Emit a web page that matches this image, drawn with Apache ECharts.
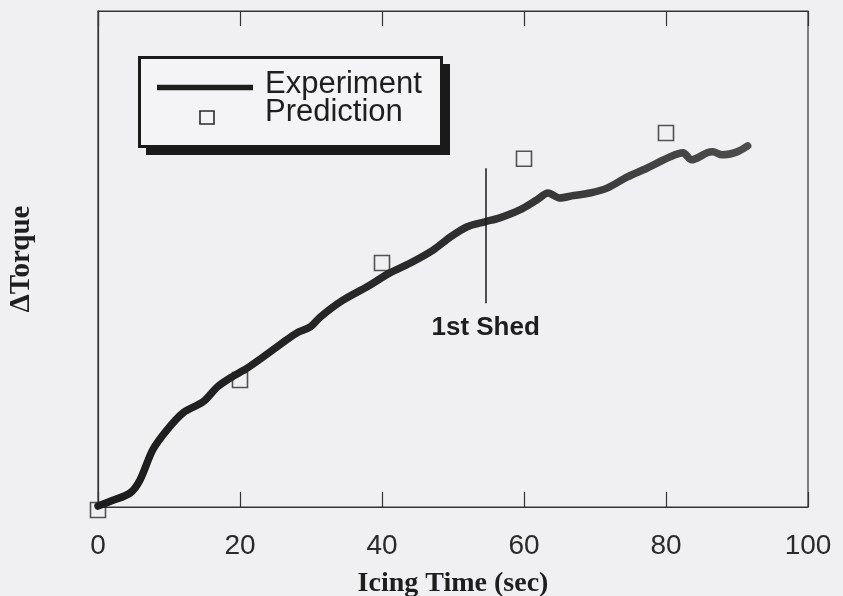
<!DOCTYPE html>
<html>
<head>
<meta charset="utf-8">
<title>ΔTorque vs Icing Time</title>
<script src="https://cdn.jsdelivr.net/npm/echarts@6/dist/echarts.min.js"></script>
<style>
  html, body { margin: 0; padding: 0; background: #f0f0f2; }
  #chart { width: 843px; height: 596px; }
</style>
</head>
<body>
<div id="chart"></div>
<script>
// Measured torque rise during icing (time in s, torque in relative units)
const experimentTime = [0, 2, 4.5, 5.9, 7.7, 9.7, 12, 14.8, 16.8, 18.6, 21, 23.2, 26, 28, 29.9, 31.3,
  34.5, 37.9, 41.1, 44, 47.2, 49.6, 52, 54.5, 56.6, 59.4, 61.8, 63.4, 65, 67, 69.3, 71.7, 74.5,
  77.3, 80.6, 82.4, 83.6, 85.8, 86.6, 87.9, 90, 91.5];
const experimentTorque = [0.2, 1.3, 2.8, 5.4, 11.5, 15.5, 19.0, 21.2, 24.2, 26.0, 28.0, 30.2, 33.1, 35.1, 36.3, 38.3,
  41.7, 44.4, 47.2, 49.2, 51.8, 54.4, 56.5, 57.5, 58.3, 59.9, 61.9, 63.3, 62.3, 62.8, 63.3, 64.3, 66.5,
  68.3, 70.6, 71.4, 70.0, 71.4, 71.6, 71.0, 71.6, 72.8];

// Model predictions at 20 s intervals
const predictionTime = [0, 20, 40, 60, 80];
const predictionTorque = [-0.6, 25.6, 49.2, 70.2, 75.4];

// First ice shed marker
const shedTime = 54.6;
const shedRange = [41.1, 68.3];
const shedLabel = '1st Shed';

const xTicks = [0, 20, 40, 60, 80, 100];

const sans = '"Liberation Sans", Arial, Helvetica, sans-serif';
const serif = '"Liberation Serif", "Times New Roman", serif';

const chart = echarts.init(document.getElementById('chart'), null, { renderer: 'canvas' });

chart.setOption({
  backgroundColor: '#f0f0f2',
  animation: false,
  grid: {
    left: 98, right: 35, top: 11, bottom: 89,
    outerBoundsMode: 'none', containLabel: false,
    show: true, borderColor: '#333', borderWidth: 1.2, backgroundColor: 'transparent'
  },
  xAxis: [
    {
      type: 'value', position: 'bottom',
      min: xTicks[0], max: xTicks[xTicks.length - 1], interval: 20,
      axisLine: { show: true, lineStyle: { color: '#333', width: 1.2 } },
      axisTick: { show: true, inside: true, length: 15, lineStyle: { color: '#333', width: 1.2 } },
      splitLine: { show: false },
      axisLabel: { margin: 25, fontFamily: sans, fontSize: 28, color: '#2a2a2a' },
      name: 'Icing Time (sec)', nameLocation: 'middle', nameGap: 63,
      nameTextStyle: { fontFamily: serif, fontWeight: 'bold', fontSize: 28, color: '#1e1e1e' }
    },
    {
      type: 'value', position: 'top',
      min: xTicks[0], max: xTicks[xTicks.length - 1], interval: 20,
      axisLine: { show: true, lineStyle: { color: '#333', width: 1.2 } },
      axisTick: { show: true, inside: true, length: 15, lineStyle: { color: '#333', width: 1.2 } },
      axisLabel: { show: false },
      splitLine: { show: false }
    }
  ],
  yAxis: {
    type: 'value', min: 0, max: 100,
    axisLine: { show: true, lineStyle: { color: '#333', width: 1.2 } },
    axisTick: { show: false },
    axisLabel: { show: false },
    splitLine: { show: false },
    name: 'ΔTorque', nameLocation: 'middle', nameGap: 62,
    nameTextStyle: { fontFamily: serif, fontWeight: 'bold', fontSize: 29, color: '#1e1e1e' }
  },
  series: [
    {
      name: 'Experiment',
      type: 'line',
      data: experimentTime.map((t, i) => [t, experimentTorque[i]]),
      showSymbol: false,
      smooth: 0.3,
      z: 3,
      lineStyle: {
        width: 7.5,
        cap: 'round',
        join: 'round',
        color: new echarts.graphic.LinearGradient(0, 0, 1, 0, [
          { offset: 0, color: '#1c1c1c' },
          { offset: 0.5, color: '#2a2a2a' },
          { offset: 1, color: '#4d4d4d' }
        ])
      },
      markLine: {
        silent: true,
        symbol: ['none', 'none'],
        lineStyle: { color: '#1a1a1a', width: 1.5, type: 'solid' },
        label: {
          show: true, position: 'start', distance: 12,
          formatter: shedLabel,
          fontFamily: sans, fontWeight: 'bold', fontSize: 26, color: '#1e1e1e'
        },
        data: [[
          { coord: [shedTime, shedRange[0]] },
          { coord: [shedTime, shedRange[1]] }
        ]]
      }
    },
    {
      name: 'Prediction',
      type: 'scatter',
      data: predictionTime.map((t, i) => [t, predictionTorque[i]]),
      symbol: 'rect',
      symbolSize: 15,
      clip: false,
      z: 2,
      itemStyle: { color: 'rgba(0,0,0,0)', borderColor: '#2a2a2a', borderWidth: 1.6 }
    }
  ],
  graphic: [
    // legend panel with its drop shadow
    { type: 'rect', z: 10, shape: { x: 146, y: 64, width: 304, height: 91 }, style: { fill: '#1a1a1a' } },
    { type: 'rect', z: 11, shape: { x: 139.5, y: 57.5, width: 302, height: 89 },
      style: { fill: '#f4f4f6', stroke: '#1a1a1a', lineWidth: 3 } },
    { type: 'line', z: 12, shape: { x1: 157, y1: 87.5, x2: 253, y2: 87.5 },
      style: { stroke: '#1c1c1c', lineWidth: 5.5 } },
    { type: 'rect', z: 12, shape: { x: 200, y: 111, width: 14, height: 13 },
      style: { fill: 'transparent', stroke: '#2a2a2a', lineWidth: 1.6 } },
    { type: 'text', z: 12, x: 265, y: 84, style: { text: 'Experiment', fontFamily: sans, fontSize: 31,
      fill: '#1e1e1e', verticalAlign: 'middle', align: 'left' } },
    { type: 'text', z: 12, x: 265, y: 112, style: { text: 'Prediction', fontFamily: sans, fontSize: 31,
      fill: '#1e1e1e', verticalAlign: 'middle', align: 'left' } }
  ]
});
</script>
</body>
</html>
